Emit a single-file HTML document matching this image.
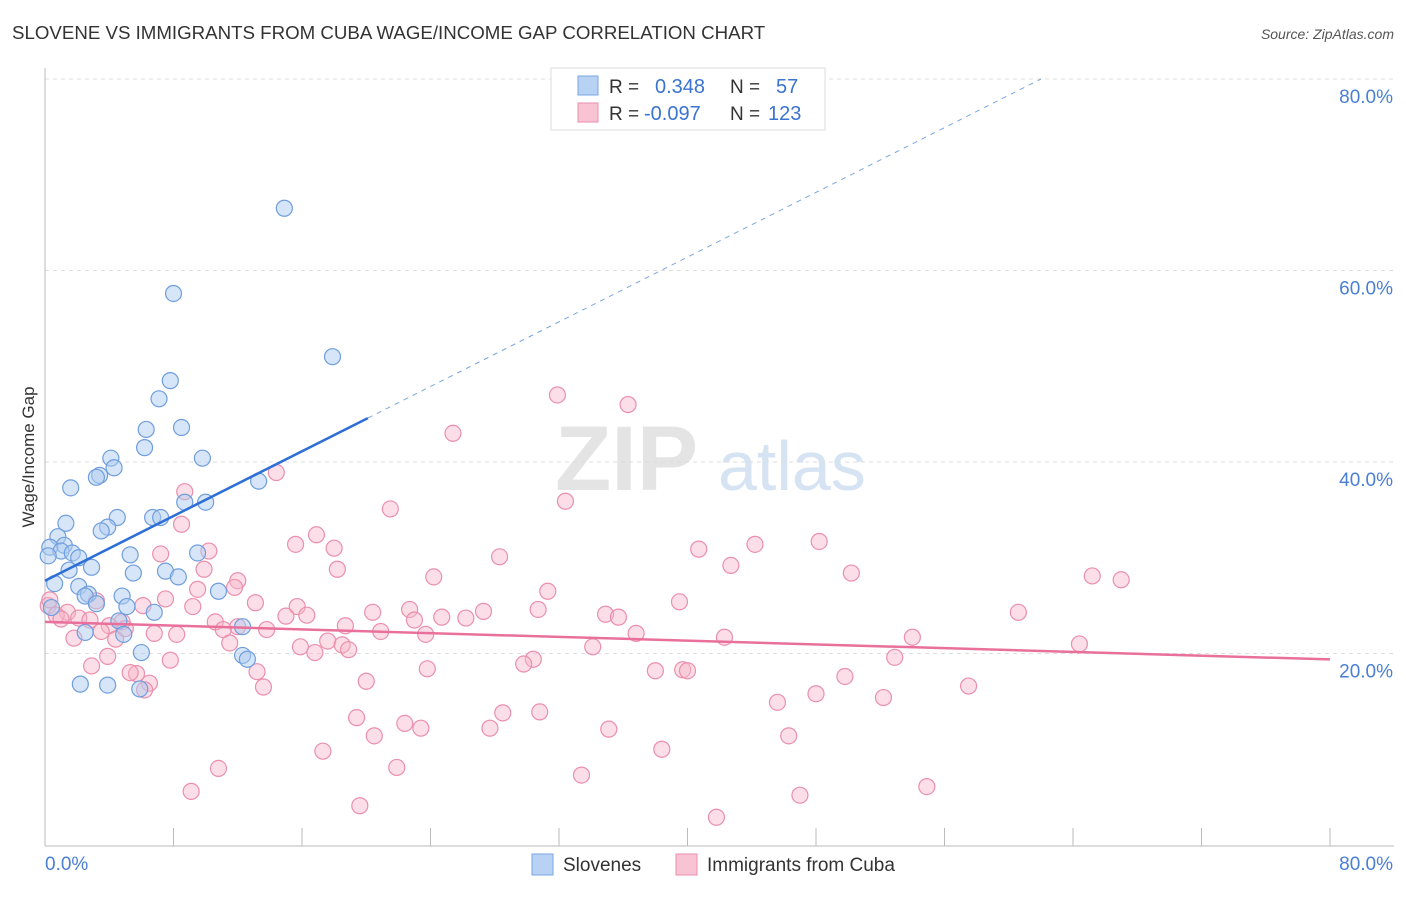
<!DOCTYPE html>
<html><head><meta charset="utf-8"><style>
body{margin:0;background:#fff;font-family:"Liberation Sans",sans-serif;}
svg text{font-family:"Liberation Sans",sans-serif;}
</style></head><body>
<svg id="chart" width="1406" height="892" xmlns="http://www.w3.org/2000/svg">
<text x="12" y="39" font-size="18.7" fill="#333">SLOVENE VS IMMIGRANTS FROM CUBA WAGE/INCOME GAP CORRELATION CHART</text>
<text x="1394" y="39" font-size="14" fill="#555" text-anchor="end" font-style="italic">Source: ZipAtlas.com</text>
<g>
<text x="555" y="490" font-size="92" fill="#e4e4e4" font-family="Liberation Serif" font-weight="bold">ZIP</text>
<text x="718" y="490" font-size="70" fill="#d6e3f3">atlas</text>
</g>
<g id="grid"></g>
<g id="axes"></g>
<g id="pts"></g>
<g id="lines"></g>
<text transform="translate(34,457) rotate(-90)" font-size="17" fill="#333" text-anchor="middle">Wage/Income Gap</text>
<g>
<rect x="551" y="68" width="274" height="62" fill="#fff" stroke="#ddd"/>
<rect x="578" y="76" width="20" height="19" fill="#b8d2f3" stroke="#7aa6e0"/>
<rect x="578" y="103" width="20" height="19" fill="#f8c3d3" stroke="#eb8fac"/>
<text x="609" y="93" font-size="19" fill="#333">R =</text>
<text x="655" y="93" font-size="20" fill="#3a74d0">0.348</text>
<text x="730" y="93" font-size="19" fill="#333">N =</text>
<text x="776" y="93" font-size="20" fill="#3a74d0">57</text>
<text x="609" y="120" font-size="19" fill="#333">R =</text>
<text x="644" y="120" font-size="20" fill="#3a74d0">-0.097</text>
<text x="730" y="120" font-size="19" fill="#333">N =</text>
<text x="768" y="120" font-size="20" fill="#3a74d0">123</text>
</g>
<g>
<rect x="532" y="854" width="21" height="21" fill="#b8d2f3" stroke="#7aa6e0"/>
<text x="563" y="871" font-size="19" fill="#333">Slovenes</text>
<rect x="676" y="854" width="21" height="21" fill="#f8c3d3" stroke="#eb8fac"/>
<text x="707" y="871" font-size="19" fill="#333">Immigrants from Cuba</text>
</g>
</svg>
<script>
const blueX=[14.9,8.0,17.9,7.8,7.1,8.5,6.3,6.2,9.8,4.1,4.3,3.4,3.2,1.6,13.3,10.0,8.7,4.5,6.7,7.2,1.3,3.9,3.5,0.8,1.2,0.3,1.0,1.7,9.5,5.3,2.1,0.2,2.9,1.5,7.5,5.5,8.3,0.6,2.1,10.8,2.7,4.8,2.5,3.2,5.1,6.8,0.4,4.6,12.3,2.5,4.9,6.0,12.3,12.6,2.2,3.9,5.9];
const blueY=[66.5,57.6,51.0,48.5,46.6,43.6,43.4,41.5,40.4,40.4,39.4,38.6,38.4,37.3,38.0,35.8,35.8,34.2,34.2,34.2,33.6,33.2,32.8,32.2,31.3,31.1,30.7,30.5,30.5,30.3,30.0,30.2,29.0,28.7,28.6,28.4,28.0,27.3,27.0,26.5,26.2,26.0,26.0,25.2,24.9,24.3,24.8,23.4,22.8,22.2,22.0,20.1,19.8,19.4,16.8,16.7,16.3];
const pinkX=[31.9,36.3,25.4,14.4,8.7,32.4,21.5,8.5,16.9,48.2,15.6,44.2,18.0,40.7,10.2,7.2,28.3,42.7,9.9,18.2,50.2,24.2,65.2,67.0,12.0,11.8,9.5,31.3,7.5,13.1,39.5,3.2,9.2,15.7,22.7,6.1,30.7,27.3,20.4,34.9,60.6,0.2,1.4,15.0,16.3,35.7,24.7,26.2,23.0,2.1,2.8,0.7,10.6,4.8,18.7,4.0,12.0,11.1,13.8,20.9,23.7,36.8,3.5,6.8,8.2,1.8,42.3,54.0,4.4,17.6,11.5,18.5,64.4,15.9,34.1,18.9,16.8,3.9,30.4,52.9,7.8,29.8,2.9,23.8,38.0,39.7,40.0,13.2,5.7,5.3,49.8,20.0,6.5,13.6,57.5,6.2,48.0,45.6,52.2,28.5,30.8,19.4,22.4,23.4,27.7,35.1,20.5,46.3,17.3,38.4,10.8,21.9,33.4,54.9,9.1,47.0,19.6,41.8,0.3,1.0,5.0];
const pinkY=[47.0,46.0,43.0,38.9,36.9,35.9,35.1,33.5,32.4,31.7,31.4,31.4,31.0,30.9,30.7,30.4,30.1,29.2,28.8,28.8,28.4,28.0,28.1,27.7,27.6,26.9,26.7,26.5,25.7,25.3,25.4,25.5,24.9,24.9,24.6,25.0,24.6,24.4,24.3,24.1,24.3,25.0,24.3,23.9,24.0,23.8,23.8,23.7,23.5,23.7,23.5,24.0,23.3,23.3,22.9,22.9,22.8,22.5,22.5,22.3,22.0,22.1,22.3,22.1,22.0,21.6,21.7,21.7,21.5,21.3,21.1,20.9,21.0,20.7,20.7,20.4,20.1,19.7,19.4,19.6,19.3,18.9,18.7,18.4,18.2,18.3,18.2,18.1,17.9,18.0,17.6,17.1,16.9,16.5,16.6,16.2,15.8,14.9,15.4,13.8,13.9,13.3,12.7,12.2,12.2,12.1,11.4,11.4,9.8,10.0,8.0,8.1,7.3,6.1,5.6,5.2,4.1,2.9,25.6,23.6,22.6];
const yTicks=[20,40,60,80];
const xTickLabels=["0.0%","80.0%"];
const blueTrend=[27.6,0.845];
const pinkTrend=[23.3,-0.049];
const NS="http://www.w3.org/2000/svg";
const X=v=>45+v*1285/80, Y=v=>845-v*191.5/20;
function mk(tag,attrs,parent){const e=document.createElementNS(NS,tag);for(const k in attrs)e.setAttribute(k,attrs[k]);parent.appendChild(e);return e;}
const grid=document.getElementById('grid'),axes=document.getElementById('axes');
yTicks.forEach(t=>{
 const l=mk('line',{x1:45,x2:1394,y1:Y(t),y2:Y(t),stroke:'#ddd','stroke-dasharray':'4,4'},grid);
 
 
 const tx=mk('text',{x:1393,y:Y(t)+24,'font-size':19,fill:'#4a7fd4','text-anchor':'end'},axes);
 tx.textContent=t.toFixed(1)+'%';
 
 
});
mk('line',{x1:45,x2:45,y1:68,y2:846,stroke:'#bbb'},axes);
mk('line',{x1:45,x2:1394,y1:846,y2:846,stroke:'#bbb'},axes);
for(let i=0;i<=10;i++){const t=mk('line',{x1:X(i*8),x2:X(i*8),y1:828,y2:846,stroke:'#bbb'},axes);
 
 }
const xl0=mk('text',{x:45,y:870,'font-size':19,fill:'#4a7fd4'},axes);xl0.textContent=xTickLabels[0];


const xl1=mk('text',{x:1393,y:870,'font-size':19,fill:'#4a7fd4','text-anchor':'end'},axes);xl1.textContent=xTickLabels[1];


const pts=document.getElementById('pts');
pinkX.forEach((x,i)=>{const c=mk('circle',{cx:X(x),cy:Y(pinkY[i]),r:8,fill:'#f7b6c9','fill-opacity':0.45,stroke:'#eb8fac','stroke-width':1.2},pts);
 
 });
blueX.forEach((x,i)=>{const c=mk('circle',{cx:X(x),cy:Y(blueY[i]),r:8,fill:'#aecbf0','fill-opacity':0.5,stroke:'#6f9ede','stroke-width':1.2},pts);
 
 });
const lines=document.getElementById('lines');
const bEnd=(80-blueTrend[0])/blueTrend[1];
const b1=mk('line',{x1:X(0),y1:Y(blueTrend[0]),x2:X(20.1),y2:Y(blueTrend[0]+blueTrend[1]*20.1),stroke:'#2d6fd6','stroke-width':2.5},lines);


const b2=mk('line',{x1:X(20.1),y1:Y(blueTrend[0]+blueTrend[1]*20.1),x2:X(bEnd),y2:Y(80),stroke:'#7aa6e0','stroke-width':1,'stroke-dasharray':'5,5'},lines);


const p1=mk('line',{x1:X(0),y1:Y(pinkTrend[0]),x2:X(80),y2:Y(pinkTrend[0]+pinkTrend[1]*80),stroke:'#e8709a','stroke-width':2.5},lines);


</script>
</body></html>
